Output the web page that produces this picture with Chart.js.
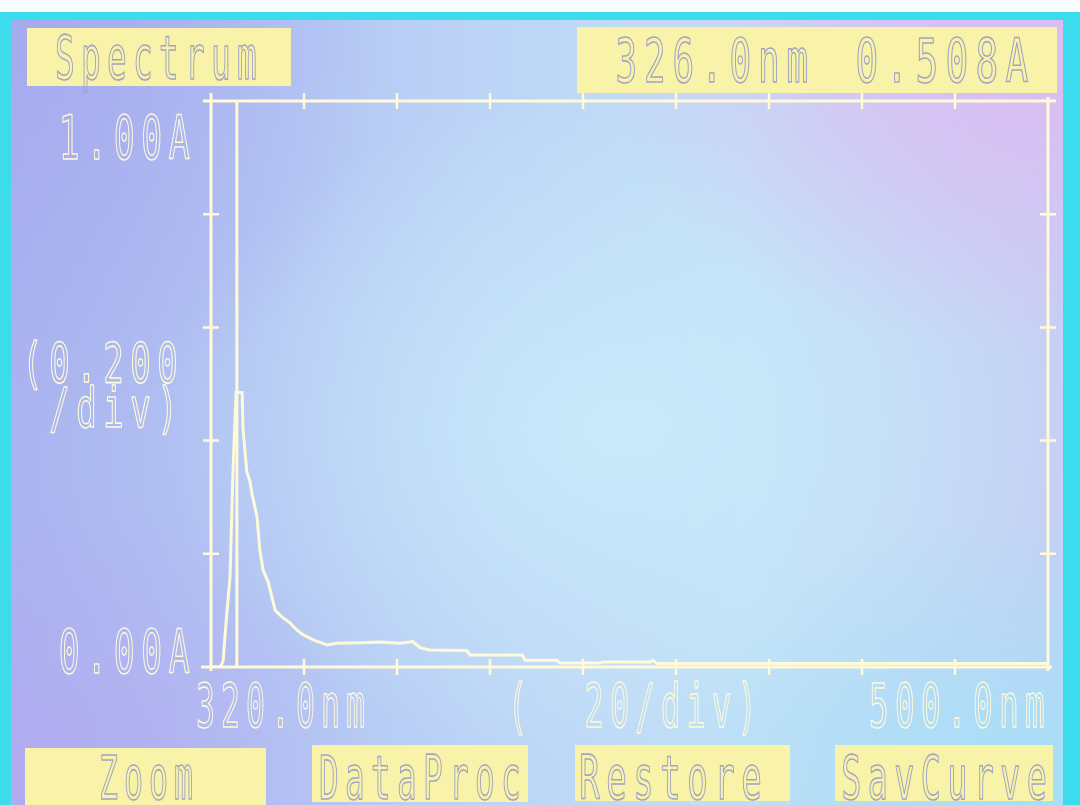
<!DOCTYPE html>
<html>
<head>
<meta charset="utf-8">
<title>Spectrum</title>
<script src="https://cdn.jsdelivr.net/npm/chart.js@4.4.1/dist/chart.umd.min.js"></script>
<style>
  html, body { margin: 0; padding: 0; }
  body {
    width: 1080px; height: 805px; position: relative; overflow: hidden;
    background: #3ddcec;
  }
  #topStrip { position: absolute; left: 0; top: 0; width: 1080px; height: 12px; background: #f8fcfd; }
  #screen {
    position: absolute; left: 11px; top: 20px; width: 1052px; height: 785px;
    background:
      radial-gradient(ellipse 420px 300px at 96% 4%, rgba(222, 186, 242, 0.95), rgba(222, 186, 242, 0) 100%),
      radial-gradient(ellipse 380px 420px at 0% 0%, rgba(166, 170, 238, 0.95), rgba(166, 170, 238, 0) 100%),
      radial-gradient(ellipse 380px 320px at 0% 100%, rgba(178, 170, 240, 0.95), rgba(178, 170, 240, 0) 100%),
      radial-gradient(ellipse 420px 300px at 100% 100%, rgba(160, 226, 248, 0.95), rgba(160, 226, 248, 0) 100%),
      radial-gradient(ellipse 460px 340px at 58% 52%, rgba(200, 234, 250, 1), rgba(200, 234, 250, 0) 100%),
      linear-gradient(to right, #aab4f0 0%, #bcd4f6 45%, #c2e0f7 70%, #c6cff4 100%);
  }
  #spectrumChart { position: absolute; left: 0; top: 0; }
</style>
</head>
<body>
<div id="topStrip"></div>
<div id="screen"></div>
<canvas id="spectrumChart" width="1080" height="805"></canvas>
<script>
// ====================================================================
// SPECTRUM SCREEN (absorbance vs wavelength)
// ====================================================================

const wavelengths = [
  320, 322, 322.6, 323.2, 324.1, 324.7, 325.4, 326.0, 326.7, 326.9,
  327.7, 328.4, 328.8, 329.9, 330.5, 331.2, 332.3, 333.1, 333.8, 335.3,
  337.0, 338.5, 339.8, 342.0, 345.0, 347.0, 352.0, 356.4, 360.6, 363.4,
  365.0, 367.0, 375.0, 375.7, 387.0, 387.5, 394.4, 395.0, 403.7, 404.5,
  414.4, 415.0, 416.0, 500
];
const absorbance = [
  0.000, 0.000, 0.010, 0.075, 0.160, 0.340, 0.485, 0.485, 0.485, 0.420,
  0.345, 0.327, 0.307, 0.265, 0.207, 0.171, 0.150, 0.124, 0.100, 0.088,
  0.078, 0.065, 0.057, 0.048, 0.039, 0.042, 0.043, 0.044, 0.042, 0.045,
  0.034, 0.030, 0.029, 0.021, 0.021, 0.012, 0.012, 0.007, 0.007, 0.009,
  0.009, 0.012, 0.006, 0.006
];

const xRange = [320, 500];
const yRange = [0, 1];
const xTickValues = [340, 360, 380, 400, 420, 440, 460, 480];
const yTickValues = [0.2, 0.4, 0.6, 0.8];

const cursorWavelength = 326.0;
const cursorAbsorbance = 0.508;

const xEndLabels = ['320.0nm', '500.0nm'];
const yEndLabels = ['0.00A', '1.00A'];
const xDivLabel = '(  20/div)';
const yDivLabels = ['(0.200', '/div)'];
const titleLabel = 'Spectrum';
const menuButtons = ['Zoom', 'DataProc', 'Restore', 'SavCurve'];

const LINE = '#fffad8';
const BOX = '#f8f3a8';
const BOX_TEXT = '#a0a3c4';
const FONT = '"DejaVu Sans Mono", "Liberation Mono", monospace';

// outlined, condensed text on a fixed character grid, like the instrument's vector font
function drawScreenText(ctx, text, x, y, opts) {
  const size = opts.size || 60;
  const advance = opts.advance || 25;
  ctx.save();
  ctx.font = `${size}px ${FONT}`;
  const natural = ctx.measureText('0').width;
  const sx = (advance * 0.76) / natural;
  const total = advance * text.length;
  let startX = x;
  if (opts.align === 'right') startX = x - total;
  if (opts.align === 'center') startX = x - total / 2;
  ctx.textAlign = 'center';
  ctx.textBaseline = 'alphabetic';
  ctx.strokeStyle = opts.color || LINE;
  ctx.lineWidth = opts.lineWidth || 1.6;
  ctx.lineJoin = 'round';
  for (let i = 0; i < text.length; i++) {
    const ch = text[i];
    if (ch === ' ') continue;
    ctx.save();
    ctx.translate(startX + advance * (i + 0.5), y);
    ctx.scale(sx, 1);
    ctx.strokeText(ch, 0, 0);
    ctx.restore();
  }
  ctx.restore();
}

function drawBox(ctx, x1, y1, x2, y2) {
  ctx.save();
  ctx.fillStyle = BOX;
  ctx.fillRect(x1, y1, x2 - x1, y2 - y1);
  ctx.restore();
}

const screenFramePlugin = {
  id: 'screenFrame',
  beforeDatasetsDraw(chart) {
    const { ctx, chartArea: area, scales } = chart;
    const xs = scales.x;
    const ys = scales.y;
    ctx.save();
    ctx.strokeStyle = LINE;
    ctx.lineWidth = 3;
    ctx.lineCap = 'butt';

    // frame, lines run a little past the corners
    ctx.beginPath();
    ctx.moveTo(area.left - 10, area.bottom); ctx.lineTo(area.right + 4, area.bottom);
    ctx.moveTo(area.left - 8, area.top); ctx.lineTo(area.right + 8, area.top);
    ctx.moveTo(area.left, area.top - 8); ctx.lineTo(area.left, area.bottom + 4);
    ctx.moveTo(area.right, area.top - 4); ctx.lineTo(area.right, area.bottom + 4);
    ctx.stroke();

    // ticks crossing the frame
    ctx.lineWidth = 2.5;
    ctx.beginPath();
    xTickValues.forEach(v => {
      const px = xs.getPixelForValue(v);
      ctx.moveTo(px, area.top - 8); ctx.lineTo(px, area.top + 8);
      ctx.moveTo(px, area.bottom - 8); ctx.lineTo(px, area.bottom + 8);
    });
    yTickValues.forEach(v => {
      const py = ys.getPixelForValue(v);
      ctx.moveTo(area.left - 8, py); ctx.lineTo(area.left + 8, py);
      ctx.moveTo(area.right - 8, py); ctx.lineTo(area.right + 8, py);
    });
    ctx.stroke();

    // cursor
    const cx = xs.getPixelForValue(cursorWavelength) - 2;
    ctx.lineWidth = 3;
    ctx.beginPath();
    ctx.moveTo(cx, area.top); ctx.lineTo(cx, area.bottom);
    ctx.stroke();
    ctx.restore();
  },
  afterDraw(chart) {
    const { ctx, chartArea: area, scales } = chart;
    const xs = scales.x;
    const ys = scales.y;

    // axis labels
    drawScreenText(ctx, yEndLabels[1], area.left - 18, ys.getPixelForValue(yRange[1]) + 58, { align: 'right', advance: 27.5 });
    drawScreenText(ctx, yEndLabels[0], area.left - 18, ys.getPixelForValue(yRange[0]) + 6, { align: 'right', advance: 27.5 });
    drawScreenText(ctx, yDivLabels[0], area.left - 30, 382, { align: 'right', advance: 27, size: 55 });
    drawScreenText(ctx, yDivLabels[1], area.left - 30, 427, { align: 'right', advance: 27, size: 55 });
    drawScreenText(ctx, xEndLabels[0], xs.getPixelForValue(xRange[0]) - 18, area.bottom + 60, { advance: 25 });
    drawScreenText(ctx, xEndLabels[1], xs.getPixelForValue(xRange[1]), area.bottom + 60, { align: 'right', advance: 26 });
    drawScreenText(ctx, xDivLabel, 505, area.bottom + 60, { advance: 25.5 });

    // title and cursor readout
    drawBox(ctx, 27, 28, 291, 86);
    drawScreenText(ctx, titleLabel, 52, 79, { advance: 26, color: BOX_TEXT });
    drawBox(ctx, 577, 27, 1057, 93);
    drawScreenText(ctx, cursorWavelength.toFixed(1) + 'nm', 612, 82, { advance: 28.5, color: BOX_TEXT });
    drawScreenText(ctx, cursorAbsorbance.toFixed(3) + 'A', 852, 82, { advance: 30, color: BOX_TEXT });

    // soft keys
    const keys = [
      { box: [25, 748, 266, 808], x: 96, adv: 25 },
      { box: [312, 745, 528, 802], x: 316, adv: 26 },
      { box: [575, 745, 790, 801], x: 576, adv: 27 },
      { box: [835, 745, 1053, 801], x: 838, adv: 26.5 }
    ];
    menuButtons.forEach((label, i) => {
      const k = keys[i];
      drawBox(ctx, k.box[0], k.box[1], k.box[2], k.box[3]);
      drawScreenText(ctx, label, k.x, 799, { advance: k.adv, color: BOX_TEXT });
    });
  }
};

function buildSpectrumChart() {
  const canvas = document.getElementById('spectrumChart');
  if (!canvas || typeof Chart === 'undefined') {
    console.error('Spectrum chart: canvas or Chart.js missing');
    return;
  }

  const points = wavelengths.map((nm, i) => ({ x: nm, y: absorbance[i] }));

  new Chart(canvas.getContext('2d'), {
    type: 'line',
    data: {
      datasets: [
        {
          label: 'Absorbance',
          data: points,
          borderColor: LINE,
          borderWidth: 3,
          pointRadius: 0,
          tension: 0,
          fill: false
        }
      ]
    },
    options: {
      responsive: false,
      animation: false,
      devicePixelRatio: 1,
      layout: { padding: { left: 211, top: 101, right: 32, bottom: 138 } },
      scales: {
        x: { type: 'linear', min: xRange[0], max: xRange[1], display: false },
        y: { min: yRange[0], max: yRange[1], display: false }
      },
      plugins: {
        legend: { display: false },
        tooltip: { enabled: false }
      }
    },
    plugins: [screenFramePlugin]
  });
}

document.addEventListener('DOMContentLoaded', () => {
  buildSpectrumChart();
});
</script>
</body>
</html>
